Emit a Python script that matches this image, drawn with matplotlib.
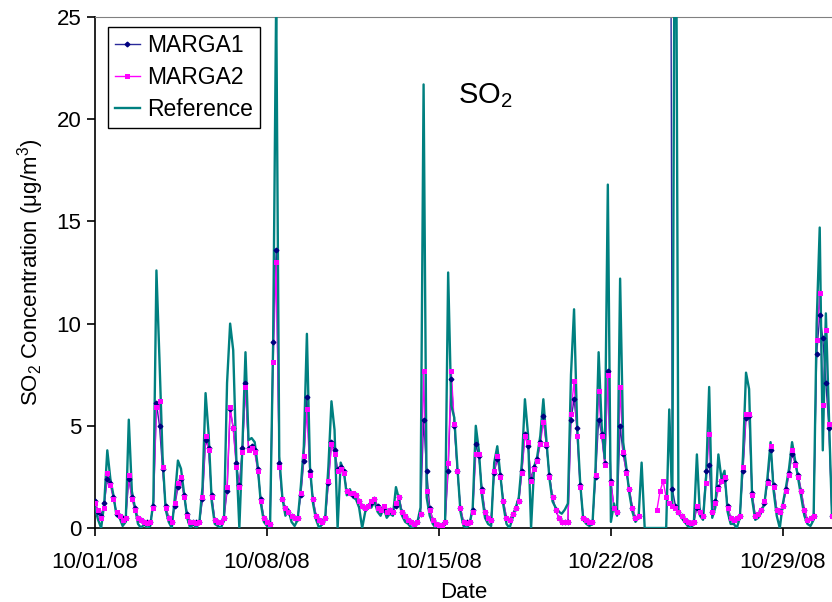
"""
SO2 비교 시계열 차트 (MARGA1 / MARGA2 / Reference)
"""
import matplotlib
matplotlib.use("Agg")
import matplotlib.pyplot as plt
import matplotlib.dates as mdates
from matplotlib.lines import Line2D
import numpy as np
import pandas as pd

NAVY = "#000080"
NAVY_LINE = "#2a2a9a"
MAGENTA = "#ff00ff"
TEAL = "#008080"
GRAY = "#808080"

plt.rcParams["font.family"] = ["Liberation Sans", "DejaVu Sans"]
plt.rcParams["mathtext.default"] = "regular"

nan = np.nan

# 3시간 간격, 10/01 00:00 부터 (하루 8개 값)
marga2 = [
    1.2, 0.9, 0.5, 1.0, 2.7, 2.1, 1.4, 0.8,
    0.6, 0.4, 0.5, 2.6, 1.4, 0.9, 0.5, 0.4,
    0.3, 0.25, 0.3, 1.0, 5.9, 6.2, 3.0, 1.0,
    0.5, 0.3, 1.2, 2.2, 2.5, 1.5, 0.6, 0.3,
    0.3, 0.25, 0.3, 1.5, 4.5, 3.8, 1.5, 0.4,
    0.3, 0.3, 0.5, 2.0, 5.9, 4.9, 3.0, 2.0,
    3.7, 6.9, 3.8, 3.9, 3.7, 2.8, 1.3, 0.5,
    0.3, 0.2, 8.1, 13.0, 3.0, 1.4, 1.0, 0.8,
    0.6, 0.5, 0.5, 1.7, 3.5, 5.8, 2.6, 1.4,
    0.6, 0.4, 0.3, 0.5, 2.3, 4.1, 3.6, 2.8,
    2.9, 2.7, 1.8, 1.7, 1.7, 1.6, 1.3, 1.1,
    1.0, 1.1, 1.3, 1.4, 1.0, 0.9, 1.1, 0.8,
    0.9, 0.8, 1.2, 1.5, 0.8, 0.6, 0.4, 0.3,
    0.2, 0.3, 0.7, 7.7, 1.8, 0.9, 0.4, 0.2,
    0.15, 0.15, 0.3, 3.2, 7.7, 5.1, 2.8, 1.0,
    0.3, 0.25, 0.3, 0.8, 3.6, 3.6, 1.8, 0.8,
    0.5, 0.4, 2.8, 3.5, 2.5, 1.3, 0.5, 0.4,
    0.7, 1.0, 1.3, 2.7, 4.5, 4.2, 2.3, 2.9,
    3.3, 4.1, 5.2, 4.1, 2.5, 1.5, 0.9, 0.5,
    0.3, 0.3, 0.3, 5.6, 7.2, 4.5, 2.0, 0.5,
    0.4, 0.3, 0.3, 2.6, 6.7, 4.5, 3.1, 7.5,
    2.2, 1.0, 0.8, 6.9, 3.7, 2.7, 1.9, 1.0,
    0.5, 0.6, nan, nan, nan, nan, nan, 0.9,
    1.8, 2.3, 1.5, 1.2, 1.1, 1.0, 0.8, 0.6,
    0.4, 0.3, 0.25, 0.3, 1.1, 0.8, 0.6, 2.2,
    4.6, 0.8, 1.2, 1.9, 2.3, 2.5, 1.0, 0.5,
    0.4, 0.5, 0.6, 3.0, 5.6, 5.6, 1.6, 0.6,
    0.7, 0.9, 1.3, 2.2, 4.0, 2.0, 0.9, 0.8,
    1.1, 1.8, 2.6, 3.8, 3.1, 2.5, 1.8, 0.9,
    0.4, 0.5, 0.6, 9.2, 11.5, 6.0, 9.7, 5.1,
    0.6,
]

marga1 = [
    1.3, 0.8, 0.6, 1.2, 2.4, 2.2, 1.5, 0.7,
    0.6, 0.5, 0.5, 2.4, 1.5, 1.0, 0.5, 0.4,
    0.3, 0.3, 0.3, 1.1, 6.1, 5.0, 2.9, 1.1,
    0.5, 0.3, 1.1, 2.0, 2.4, 1.6, 0.7, 0.3,
    0.3, 0.3, 0.3, 1.4, 4.3, 3.9, 1.6, 0.4,
    0.3, 0.3, 0.5, 1.8, 5.8, 4.9, 3.2, 2.1,
    3.9, 7.1, 3.9, 4.0, 3.8, 2.9, 1.4, 0.5,
    0.3, 0.2, 9.1, 13.6, 3.2, 1.4, 1.0, 0.8,
    0.6, 0.5, 0.5, 1.6, 3.3, 6.4, 2.8, 1.4,
    0.6, 0.4, 0.3, 0.5, 2.2, 4.2, 3.8, 2.9,
    3.0, 2.8, 1.8, 1.7, 1.6, 1.6, 1.3, 1.1,
    1.0, 1.1, 1.2, 1.4, 1.1, 0.9, 1.0, 0.8,
    0.9, 0.8, 1.1, 1.5, 0.8, 0.6, 0.4, 0.3,
    0.2, 0.3, 0.7, 5.3, 2.8, 1.0, 0.4, 0.2,
    0.15, 0.15, 0.3, 2.8, 7.3, 5.0, 2.8, 1.0,
    0.3, 0.3, 0.3, 0.9, 4.1, 3.5, 1.9, 0.8,
    0.5, 0.4, 2.7, 3.4, 2.6, 1.3, 0.5, 0.4,
    0.7, 1.0, 1.3, 2.8, 4.6, 4.0, 2.4, 3.0,
    3.4, 4.2, 5.5, 4.0, 2.6, 1.5, 0.9, 0.5,
    0.3, 0.3, 0.3, 5.3, 6.3, 4.9, 2.1, 0.5,
    0.4, 0.3, 0.3, 2.5, 5.3, 4.6, 3.2, 7.7,
    2.3, 1.0, 0.8, 5.0, 3.6, 2.8, 1.9, 1.0,
    0.5, 0.6, nan, nan, nan, nan, nan, nan,
    nan, nan, nan, 60.0, 1.9, 1.1, 0.8, 0.6,
    0.4, 0.3, 0.25, 0.3, 1.0, 0.8, 0.6, 2.8,
    3.1, 0.8, 1.3, 2.0, 2.3, 2.4, 1.1, 0.5,
    0.4, 0.5, 0.6, 2.8, 5.4, 5.5, 1.7, 0.6,
    0.7, 0.9, 1.2, 2.3, 3.8, 2.1, 0.9, 0.8,
    1.1, 1.9, 2.7, 3.6, 3.2, 2.6, 1.8, 0.9,
    0.4, 0.5, 0.6, 8.5, 10.4, 9.3, 7.1, 4.9,
    0.6,
]

reference = [
    1.0, 0.4, 0.0, 1.2, 3.8, 2.4, 1.6, 0.6,
    0.5, 0.1, 0.3, 5.3, 1.8, 1.0, 0.2, 0.0,
    0.2, 0.0, 0.1, 1.3, 12.6, 8.2, 3.5, 0.9,
    0.3, 0.0, 1.5, 3.3, 2.9, 1.7, 0.5, 0.0,
    0.2, 0.0, 0.3, 2.0, 6.6, 4.6, 1.3, 0.2,
    0.1, 0.0, 0.4, 7.1, 10.0, 8.7, 3.5, 0.0,
    4.0, 8.6, 4.3, 4.4, 4.2, 3.0, 1.2, 0.3,
    0.1, 0.0, 9.0, 26.0, 3.5, 1.5, 0.6, 0.9,
    0.3, 0.1, 0.4, 2.0, 4.0, 9.5, 3.0, 1.2,
    0.4, 0.0, 0.2, 0.6, 3.0, 6.2, 4.8, 0.0,
    3.2, 2.8, 1.6, 1.9, 1.5, 1.4, 1.0, 0.0,
    0.8, 1.0, 1.0, 1.3, 0.8, 0.6, 1.0, 0.5,
    0.7, 0.6, 2.0, 1.4, 0.6, 0.3, 0.2, 0.0,
    0.1, 0.3, 1.0, 21.7, 1.5, 0.6, 0.2, 0.0,
    0.1, 0.0, 0.2, 12.5, 6.0, 5.4, 3.0, 0.8,
    0.1, 0.0, 0.2, 1.0, 5.0, 3.8, 1.6, 0.5,
    0.2, 0.1, 3.2, 4.0, 2.6, 1.1, 0.2, 0.0,
    0.5, 1.0, 1.5, 3.2, 6.3, 4.6, 0.0, 3.0,
    3.5, 4.5, 6.3, 4.3, 2.4, 1.3, 1.0, 0.8,
    0.7, 0.9, 1.2, 7.5, 10.7, 5.0, 2.2, 0.4,
    0.2, 0.1, 0.2, 3.0, 8.6, 5.0, 3.4, 16.8,
    0.3, 1.2, 0.6, 12.2, 4.2, 3.0, 1.7, 0.8,
    0.3, 0.5, 3.2, 0.0, 0.0, 0.0, 0.0, 0.0,
    0.0, 0.0, 0.0, 5.8, 1.0, 40.0, 0.8, 0.5,
    0.3, 0.1, 0.0, 0.2, 3.6, 0.6, 0.4, 2.5,
    6.9, 0.5, 1.0, 3.6, 2.4, 2.8, 0.8, 0.2,
    0.2, 0.0, 0.5, 3.5, 7.6, 6.8, 1.4, 0.4,
    0.5, 0.8, 1.2, 2.5, 4.2, 1.8, 0.6, 0.0,
    1.2, 2.0, 2.9, 4.2, 3.3, 2.4, 1.5, 0.6,
    0.2, 0.1, 0.4, 10.0, 14.7, 3.8, 10.5, 5.5,
    0.5,
]

times = pd.date_range("2008-10-01", periods=len(reference), freq="3h")

fig = plt.figure(figsize=(8.32, 6.02), dpi=100, facecolor="white")
ax = fig.add_axes([0.1142, 0.1229, 0.8858, 0.8489])

ax.plot(times, marga1, color=NAVY_LINE, linewidth=1.0, zorder=2)
ax.plot(times, marga2, color=MAGENTA, linewidth=1.0, zorder=3)
ax.plot(times, reference, color=TEAL, linewidth=1.7, zorder=4)
# 마커는 선 위에
ax.plot(times, marga1, linestyle="none", marker="D", markersize=2.4,
        color=NAVY, zorder=5)
ax.plot(times, marga2, linestyle="none", marker="s", markersize=3.6,
        color=MAGENTA, markeredgewidth=0, zorder=6)

ax.set_xlim(pd.Timestamp("2008-10-01"), pd.Timestamp("2008-10-31"))
ax.set_ylim(0, 25)
ax.set_yticks([0, 5, 10, 15, 20, 25])
ax.xaxis.set_major_locator(mdates.DayLocator(bymonthday=[1, 8, 15, 22, 29]))
ax.xaxis.set_major_formatter(mdates.DateFormatter("%m/%d/%y"))

ax.tick_params(axis="both", labelsize=16, direction="out", width=1.2,
               color="black")
ax.tick_params(axis="x", length=6, pad=11)
ax.tick_params(axis="y", length=6, pad=4)

ax.spines["right"].set_visible(False)
ax.spines["top"].set_color(GRAY)
ax.spines["left"].set_linewidth(1.2)
ax.spines["bottom"].set_linewidth(1.2)

ax.set_xlabel("Date", fontsize=16, labelpad=7)
ax.set_ylabel("SO$_2$ Concentration (μg/m$^3$)", fontsize=16)
ax.yaxis.set_label_coords(-0.066, 0.5)

ax.text(0.529, 0.847, "SO$_2$", transform=ax.transAxes, fontsize=21,
        ha="center", va="center")

handles = [
    Line2D([], [], color=NAVY_LINE, linewidth=1.0, marker="D", markersize=2.4,
           markerfacecolor=NAVY, markeredgecolor=NAVY),
    Line2D([], [], color=MAGENTA, linewidth=1.0, marker="s", markersize=3.6,
           markeredgewidth=0),
    Line2D([], [], color=TEAL, linewidth=1.7),
]
leg = ax.legend(handles, ["MARGA1", "MARGA2", "Reference"], loc="upper left",
                bbox_to_anchor=(0.0176, 0.980), borderaxespad=0, fontsize=16.5,
                fancybox=False, edgecolor="black", framealpha=1,
                handlelength=1.1, handletextpad=0.3, borderpad=0.3,
                labelspacing=0.4)
leg.get_frame().set_linewidth(1.0)

fig.savefig("out.png", dpi=100, facecolor="white")
